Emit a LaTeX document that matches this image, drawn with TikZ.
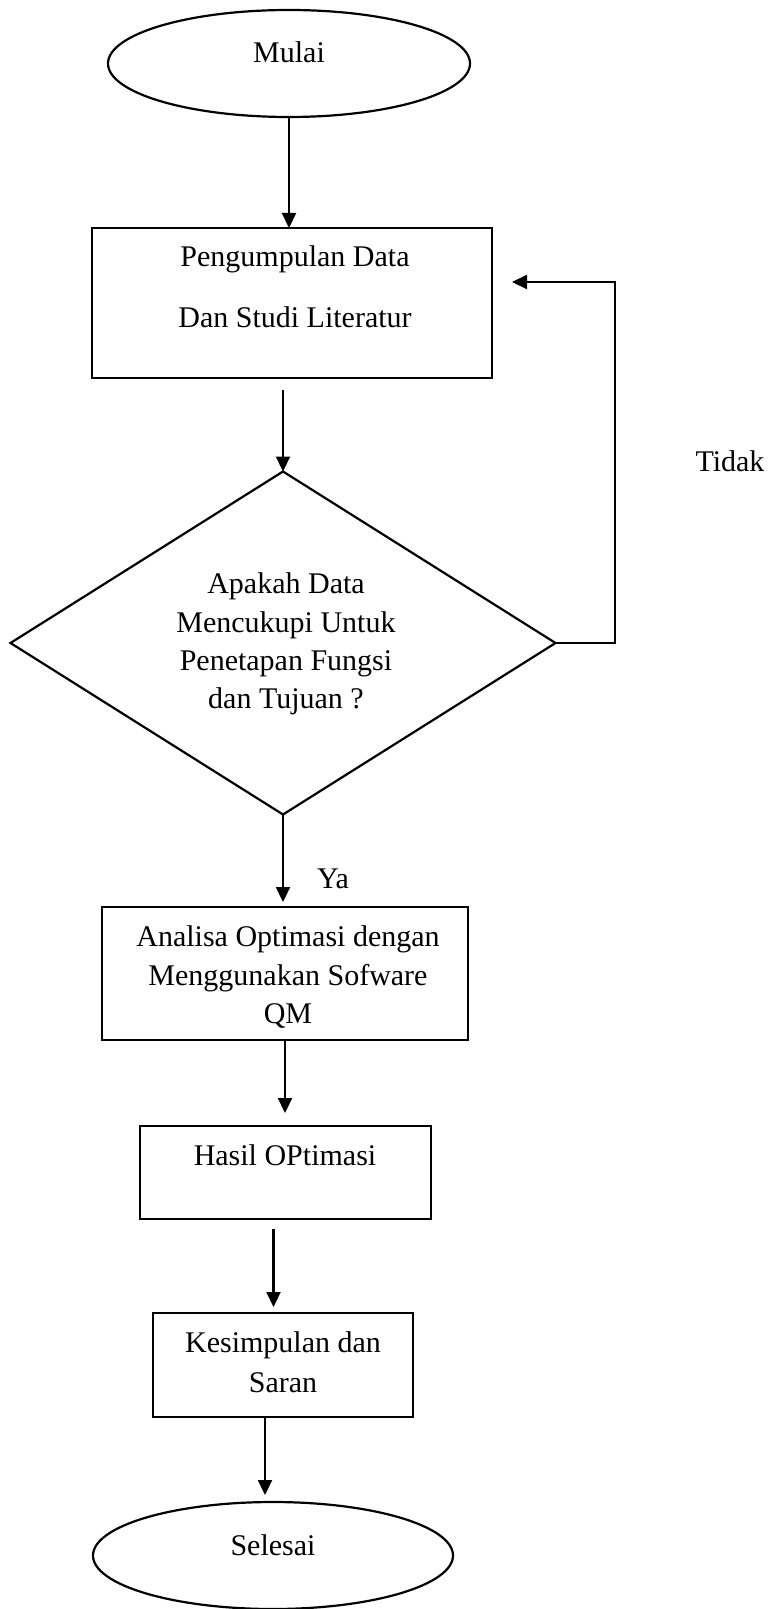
\documentclass[tikz,border=0pt]{standalone}
\usepackage{fontspec}
\setmainfont{Liberation Serif}
\usetikzlibrary{arrows.meta, shapes.geometric}

\begin{document}
\begin{tikzpicture}[
  x=0.5pt, y=-0.5pt, line width=1.1pt,
  term/.style={ellipse, draw, inner sep=0pt, outer sep=0pt, minimum height=53.5pt},
  proc/.style={rectangle, draw, inner sep=0pt, outer sep=0pt},
  decide/.style={diamond, draw, inner sep=0pt, outer sep=0pt,
                 minimum width=272.5pt, minimum height=171.5pt},
  txt/.style={font=\fontsize{15pt}{18pt}\selectfont, inner sep=0pt, anchor=base},
  arr/.style={-{Triangle[length=7.5pt,width=7pt]}}
]
\useasboundingbox (0,0) rectangle (778,1609);

% Mulai
\node[term, minimum width=181pt] (start) at (289,63.5) {};
\node[txt] (start-t) at (289,63) {Mulai};

% Pengumpulan data
\node[proc, minimum width=200pt, minimum height=75pt] (collect) at (292,303) {};
\node[txt] (collect-a) at (295,267) {Pengumpulan Data};
\node[txt] (collect-b) at (295,328) {Dan Studi Literatur};

% Keputusan
\node[decide] (check) at (283,643) {};
\node[txt] (check-a) at (286,593) {Apakah Data};
\node[txt] (check-b) at (286,632) {Mencukupi Untuk};
\node[txt] (check-c) at (286,670) {Penetapan Fungsi};
\node[txt] (check-d) at (286,708) {dan Tujuan ?};

% Analisa
\node[proc, minimum width=183pt, minimum height=66.5pt] (analyse) at (285,973.5) {};
\node[txt] (analyse-a) at (288,946) {Analisa Optimasi dengan};
\node[txt] (analyse-b) at (288,985) {Menggunakan Sofware};
\node[txt] (analyse-c) at (288,1023) {QM};

% Hasil
\node[proc, minimum width=145.5pt, minimum height=46.5pt] (result) at (285.5,1172.5) {};
\node[txt] (result-t) at (285,1165) {Hasil OPtimasi};

% Kesimpulan
\node[proc, minimum width=130pt, minimum height=52pt] (conclude) at (283,1365) {};
\node[txt] (conclude-a) at (283,1352) {Kesimpulan dan};
\node[txt] (conclude-b) at (283,1392) {Saran};

% Selesai
\node[term, minimum width=180pt] (finish) at (273,1555.5) {};
\node[txt] (finish-t) at (273,1555) {Selesai};

% labels
\node[txt] (yes) at (333,888) {Ya};
\node[txt] (no) at (730,472) {Tidak};

% arrows
\draw[arr] (start.south) -- (start.south |- collect.north);
\draw[arr, shorten <=6pt] (check.north |- collect.south) -- (check.north);
\coordinate (loop) at (615,282);
\draw[arr, shorten >=10pt] (check.east) -| (loop) -- (collect.east |- loop);
\draw[arr, shorten >=2.5pt] (check.south) -- (check.south |- analyse.north);
\draw[arr, shorten >=6.5pt] (analyse.south) -- (analyse.south |- result.north);
\draw[arr, shorten <=5pt, shorten >=3pt] ([xshift=-6pt]result.south) -- ([xshift=-6pt]result.south |- conclude.north);
\draw[arr, shorten >=3.5pt] ([xshift=-9pt]conclude.south) -- ([xshift=-9pt]conclude.south |- finish.north);
\end{tikzpicture}
\end{document}
